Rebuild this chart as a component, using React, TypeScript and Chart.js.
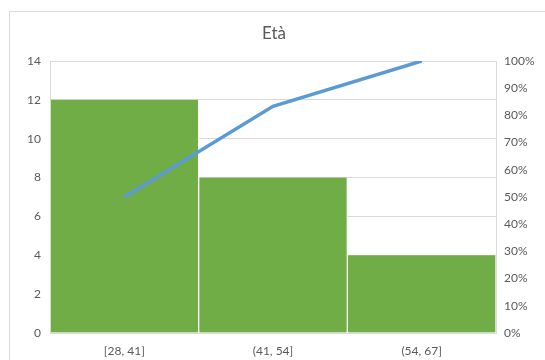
import React, { useEffect, useRef } from "react";
import { Chart, registerables } from "chart.js";

Chart.register(...registerables);

const categories = ["[28, 41]", "(41, 54]", "(54, 67]"];
const counts = [12, 8, 4];
const cumulative = [0.5, 0.8333, 1.0];
const title = "Età";

const FONT = "Lato, 'Open Sans', 'Liberation Sans', sans-serif";
const TEXT = "#595959";
const GRID = "#D9D9D9";

// Frame around the whole chart, the plot box outline and the centred title.
const framePlugin = {
  id: "frame",
  beforeDraw(chart: any) {
    const { ctx } = chart;
    ctx.save();
    ctx.fillStyle = "#ffffff";
    ctx.fillRect(0, 0, chart.width, chart.height);
    ctx.strokeStyle = GRID;
    ctx.lineWidth = 1;
    ctx.strokeRect(9.5, 11.5, chart.width + 10, chart.height + 10);
    ctx.restore();
  },
  beforeDatasetsDraw(chart: any) {
    const { ctx, chartArea } = chart;
    ctx.save();
    ctx.strokeStyle = GRID;
    ctx.lineWidth = 1;
    ctx.strokeRect(
      Math.round(chartArea.left) + 0.5,
      Math.round(chartArea.top) + 0.5,
      Math.round(chartArea.right - chartArea.left),
      Math.round(chartArea.bottom - chartArea.top)
    );
    ctx.restore();
  },
  afterDatasetsDraw(chart: any) {
    const { ctx, chartArea } = chart;
    ctx.save();
    ctx.fillStyle = TEXT;
    ctx.font = `17px ${FONT}`;
    ctx.textAlign = "center";
    ctx.textBaseline = "middle";
    ctx.fillText(title, (chartArea.left + chartArea.right) / 2 + 1, 34);
    ctx.restore();
  },
};

export default function App() {
  const ref = useRef<HTMLCanvasElement | null>(null);

  useEffect(() => {
    if (!ref.current) return;
    const chart = new Chart(ref.current, {
      type: "bar",
      data: {
        labels: categories,
        datasets: [
          {
            type: "line",
            data: cumulative,
            yAxisID: "y2",
            borderColor: "#5B9BD5",
            borderWidth: 3.5,
            pointRadius: 0,
            tension: 0,
            order: 0,
          } as any,
          {
            type: "bar",
            data: counts,
            yAxisID: "y",
            backgroundColor: "#70AD47",
            borderColor: "#ffffff",
            borderWidth: { left: 1, right: 1, top: 0, bottom: 0 },
            borderSkipped: false,
            barPercentage: 1,
            categoryPercentage: 1,
            order: 1,
          } as any,
        ],
      },
      options: {
        responsive: false,
        animation: false,
        layout: { padding: { top: 61, left: 0, right: 0, bottom: 0 } },
        plugins: {
          legend: { display: false },
          tooltip: { enabled: false },
          title: { display: false },
        },
        scales: {
          x: {
            offset: true,
            grid: { display: false, drawTicks: false },
            border: { display: false },
            ticks: {
              color: TEXT,
              font: { family: FONT, size: 12 },
              padding: 11,
            },
            afterFit(axis: any) {
              axis.height = 27;
            },
          },
          y: {
            position: "left",
            min: 0,
            max: 14,
            grid: { color: GRID, drawTicks: false },
            border: { display: false },
            ticks: {
              stepSize: 2,
              color: TEXT,
              font: { family: FONT, size: 12 },
              padding: 9,
            },
            afterFit(axis: any) {
              axis.width = 50;
            },
          },
          y2: {
            position: "right",
            min: 0,
            max: 1,
            grid: { display: false, drawTicks: false },
            border: { display: false },
            ticks: {
              stepSize: 0.1,
              color: TEXT,
              font: { family: FONT, size: 12 },
              padding: 8,
              callback: (v: any) => `${Math.round(Number(v) * 100)}%`,
            },
            afterFit(axis: any) {
              axis.width = 49;
            },
          },
        },
      },
      plugins: [framePlugin],
    });
    return () => chart.destroy();
  }, []);

  return (
    <div style={{ position: "fixed", left: 0, top: 0, width: 545, height: 360 }}>
      <canvas ref={ref} width={545} height={360} style={{ display: "block" }} />
    </div>
  );
}
